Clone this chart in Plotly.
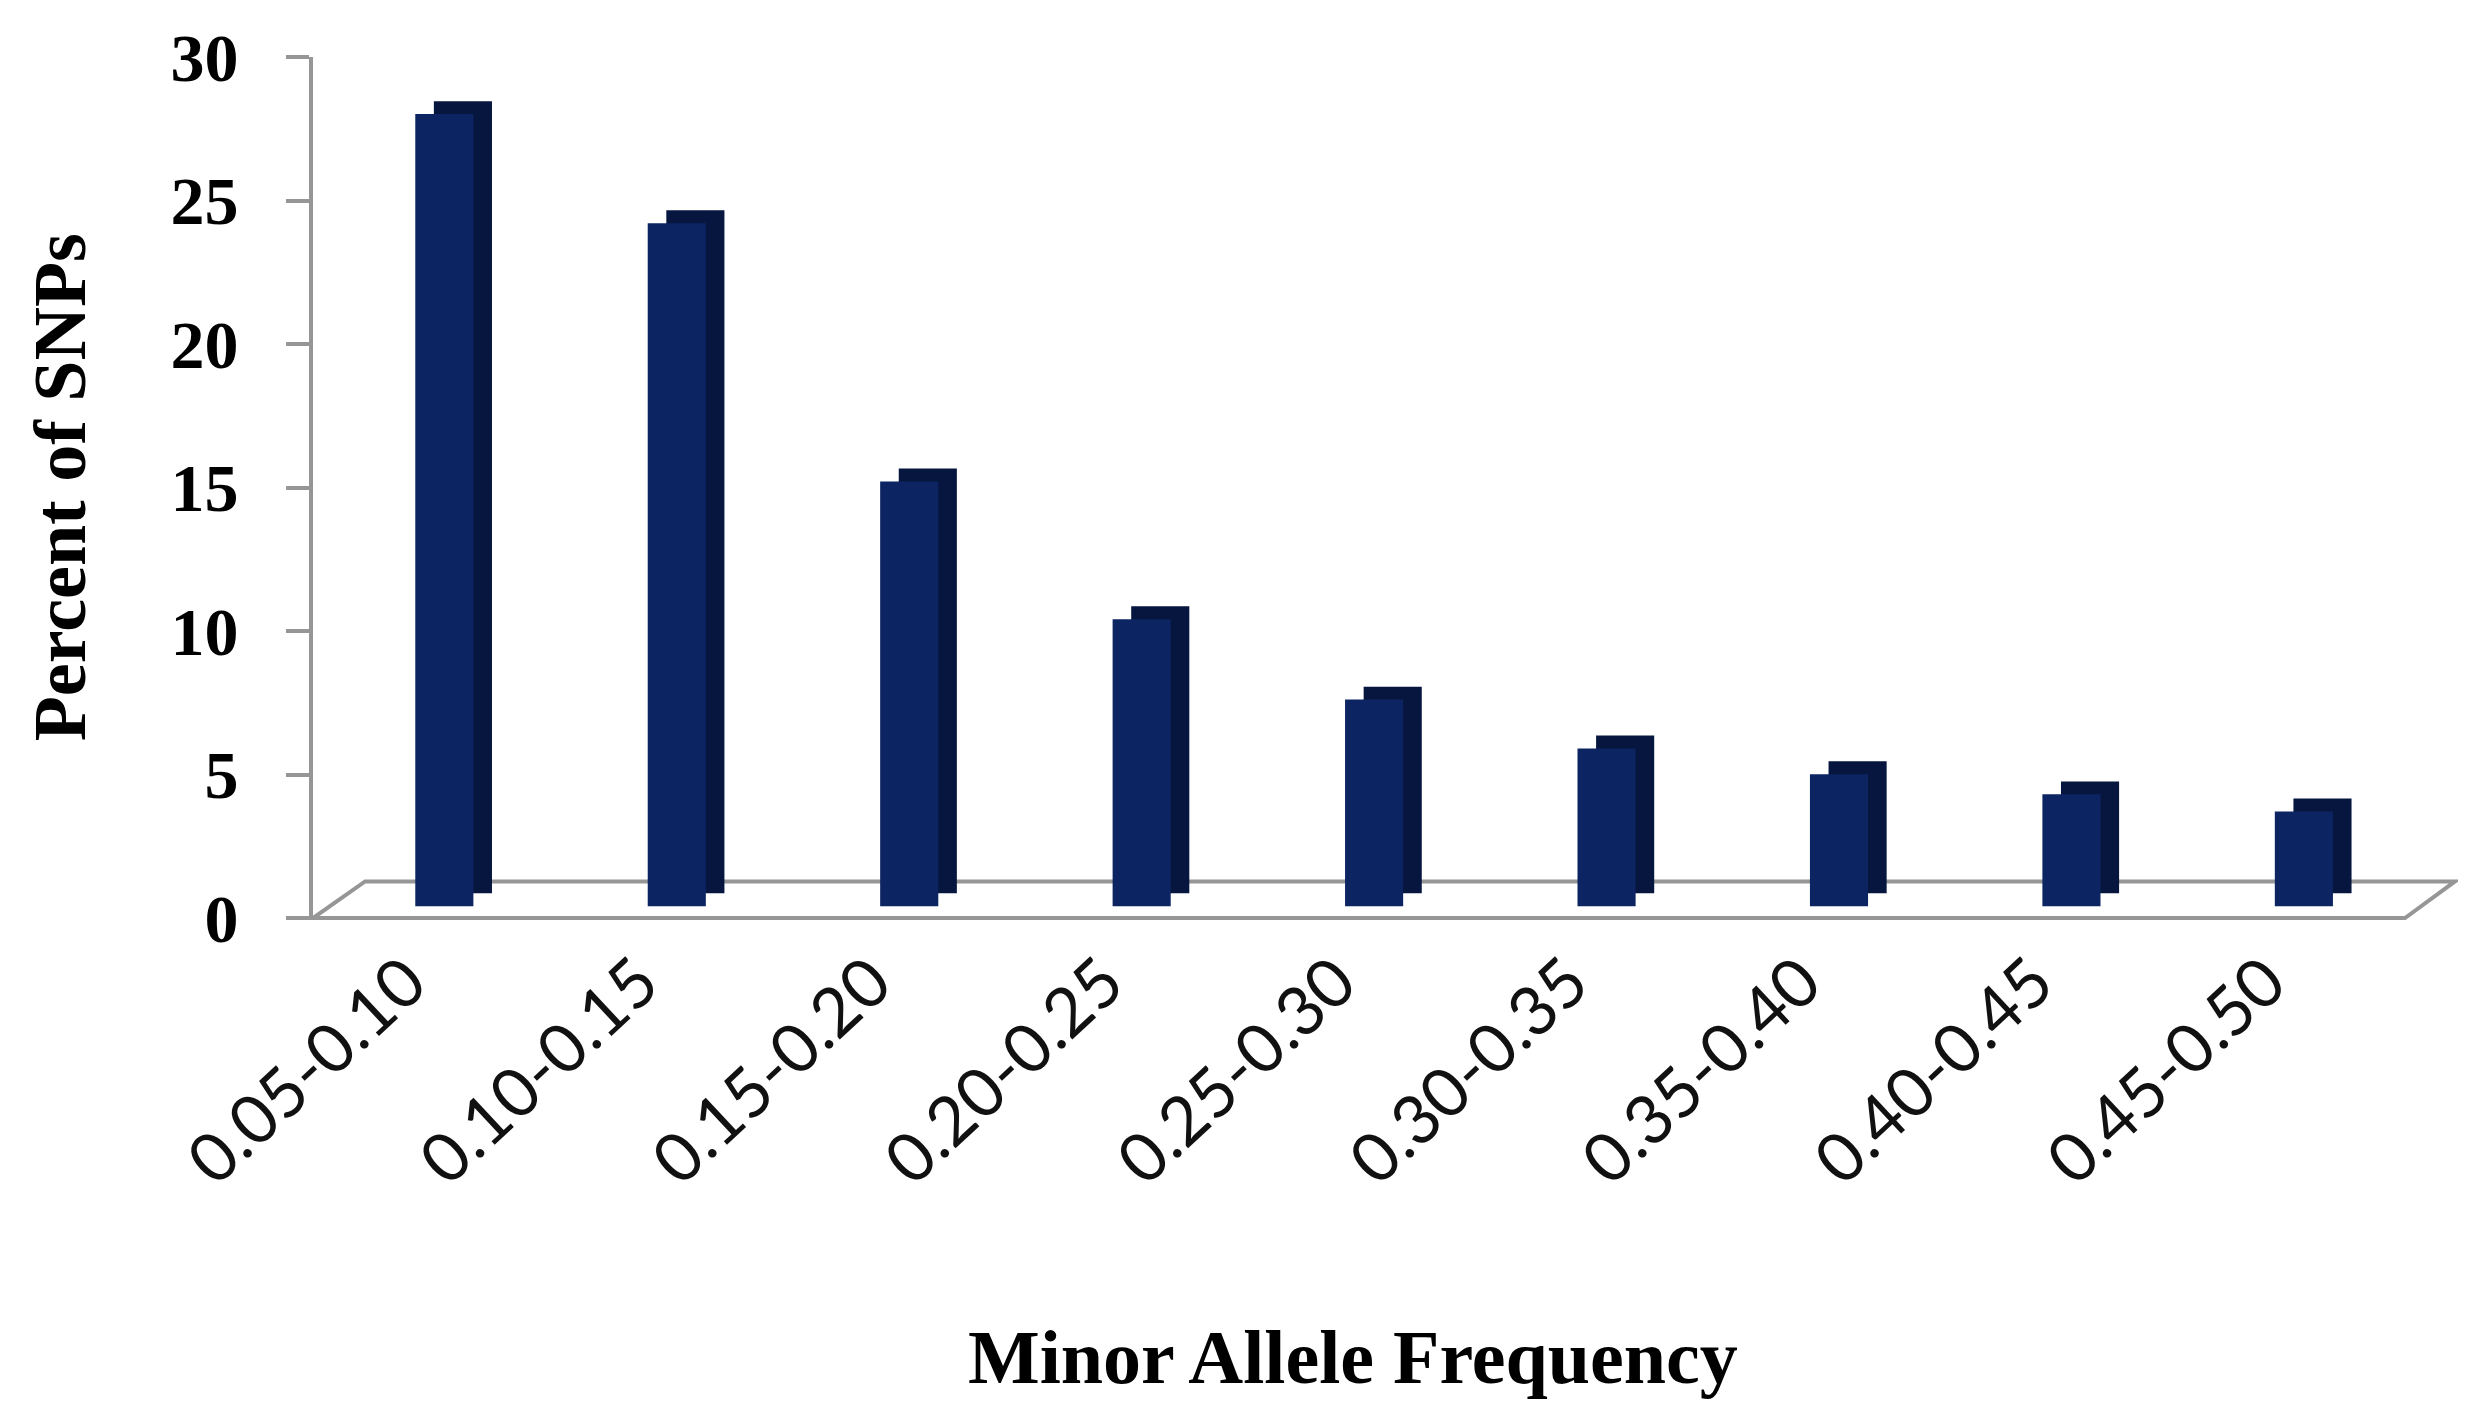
from plotly import graph_objects as go

# Data
categories = ["0.05-0.10", "0.10-0.15", "0.15-0.20", "0.20-0.25", "0.25-0.30",
              "0.30-0.35", "0.35-0.40", "0.40-0.45", "0.45-0.50"]
percent_snps = [27.6, 23.8, 14.8, 10.0, 7.2, 5.5, 4.6, 3.9, 3.3]
y_ticks = [0, 5, 10, 15, 20, 25, 30]

front_col = "#0c2462"
side_col = "#06163f"
grey = "#969696"
serif = "Liberation Serif"

fig = go.Figure()

# darker copy shifted right/up, gives the 3D side of each column
fig.add_traces(
    go.Bar(
        x=categories,
        y=percent_snps,
        base=0.86,
        width=0.25,
        offset=0.02,
        marker_color=side_col,
        marker_line_width=0,
        hoverinfo="skip",
        showlegend=False,
    )
)
# front face
fig.add_traces(
    go.Bar(
        x=categories,
        y=percent_snps,
        base=0.41,
        width=0.25,
        offset=-0.06,
        marker_color=front_col,
        marker_line_width=0,
        name="Percent of SNPs",
        showlegend=False,
    )
)

# floor of the 3D chart
fig.add_shape(
    type="path",
    xref="paper", yref="paper",
    path="M 0,0 L 1,0 L 1.0239,0.0425 L 0.0249,0.0425 Z",
    line=dict(color=grey, width=4),
    fillcolor="rgba(0,0,0,0)",
    layer="below",
)

fig.update_layout(
    width=2466,
    height=1422,
    margin=dict(l=305, r=69, t=44, b=512),
    paper_bgcolor="white",
    plot_bgcolor="white",
    barmode="overlay",
    xaxis=dict(
        type="category",
        showgrid=False,
        showline=False,
        ticks="",
        tickangle=-43,
        tickfont=dict(family="Lato", size=68, color="#111111"),
        ticklabelstandoff=10,
        ticklabelshift=-22,
        range=[-0.5, 8.5],
    ),
    yaxis=dict(
        range=[0, 30],
        tickvals=y_ticks,
        showgrid=False,
        zeroline=False,
        showline=True,
        linecolor=grey,
        linewidth=4,
        ticks="outside",
        ticklen=23,
        tickwidth=4,
        tickcolor=grey,
        tickfont=dict(family=serif, size=68, color="black", weight="bold"),
        ticklabelstandoff=34,
        ticklabeloverflow="allow",
    ),
    annotations=[
        dict(
            text="Minor Allele Frequency",
            xref="paper", yref="paper",
            x=0.497, y=-0.51,
            xanchor="center", yanchor="middle",
            showarrow=False,
            font=dict(family=serif, size=76, color="black", weight="bold"),
        ),
        dict(
            text="Percent of SNPs",
            xref="paper", yref="paper",
            x=-0.121, y=0.5,
            xanchor="center", yanchor="middle",
            textangle=-90,
            showarrow=False,
            font=dict(family=serif, size=74, color="black", weight="bold"),
        ),
    ],
)

fig.write_html("out.html")
